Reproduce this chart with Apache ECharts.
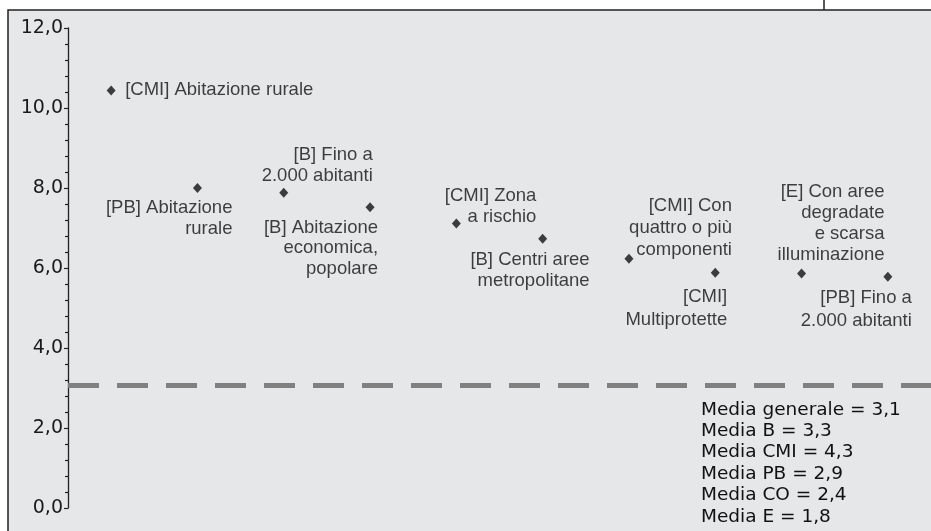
<!DOCTYPE html>
<html>
<head>
<meta charset="utf-8">
<script src="https://cdn.jsdelivr.net/npm/echarts@6/dist/echarts.min.js"></script>
<style>
  html, body { margin: 0; padding: 0; background: #ffffff; }
  #chart { width: 931px; height: 531px; }
</style>
</head>
<body>
<div id="chart"></div>
<script>
// categorie (testi delle etichette) e valori
var categories = [
  '[CMI] Abitazione rurale',
  '[PB] Abitazione\nrurale',
  '[B] Fino a\n2.000 abitanti',
  '[B] Abitazione\neconomica,\npopolare',
  '[CMI] Zona\na rischio',
  '[B] Centri aree\nmetropolitane',
  '[CMI] Con\nquattro o più\ncomponenti',
  '[CMI]\nMultiprotette',
  '[E] Con aree\ndegradate\ne scarsa\nilluminazione',
  '[PB] Fino a\n2.000 abitanti'
]
var values = [10.44, 8.0, 7.88, 7.52, 7.11, 6.73, 6.23, 5.88, 5.86, 5.78]
var yTicks = [0, 2, 4, 6, 8, 10, 12]
var mediaGenerale = 3.06
var mediaLines = [
  'Media generale = 3,1',
  'Media B = 3,3',
  'Media CMI = 4,3',
  'Media PB = 2,9',
  'Media CO = 2,4',
  'Media E = 1,8'
]

// posizione delle etichette rispetto al punto: [dx, dy, align, lineHeight]
var labelLayout = [
  [14, 0, 'left', 21],
  [35, 10, 'right', 20.5],
  [89, -48, 'right', 20.5],
  [8, 10, 'right', 20.5],
  [80, -38, 'right', 21],
  [47, 11, 'right', 21],
  [103, -64, 'right', 22],
  [12, 12, 'right', 23.5],
  [83, -92, 'right', 21],
  [24, 9, 'right', 23.5]
]

var fmt = function (v) { return v.toFixed(1).replace('.', ',') }

var points = values.map(function (v, i) {
  var l = labelLayout[i]
  return {
    value: [i, v],
    label: {
      show: true,
      formatter: categories[i],
      position: 'inside',
      align: l[2],
      verticalAlign: i === 0 ? 'middle' : 'top',
      offset: [l[0], l[1]],
      lineHeight: l[3],
      fontFamily: 'Liberation Sans',
      fontSize: 18.5,
      color: '#111111'
    }
  }
})

var myChart = echarts.init(document.getElementById('chart'))
myChart.setOption({
  animation: false,
  backgroundColor: '#ffffff',
  graphic: [
    {
      type: 'rect',
      z: -10,
      shape: { x: 8, y: 10, width: 940, height: 540 },
      style: { fill: '#e6e7e9', stroke: '#222222', lineWidth: 1.5 }
    },
    {
      type: 'line',
      z: -9,
      shape: { x1: 824, y1: 0, x2: 824, y2: 10 },
      style: { stroke: '#222222', lineWidth: 1.5 }
    },
    {
      type: 'text',
      left: 701,
      top: 399,
      style: {
        text: mediaLines.join('\n'),
        fontFamily: 'DejaVu Sans',
        fontSize: 18.5,
        lineHeight: 21.4,
        fill: '#111111'
      }
    }
  ],
  grid: { left: 68, top: 28, width: 868, height: 480 },
  xAxis: {
    type: 'category',
    data: categories,
    show: false
  },
  yAxis: {
    type: 'value',
    min: yTicks[0],
    max: yTicks[yTicks.length - 1],
    interval: 2,
    axisLine: { show: true, lineStyle: { color: '#222222', width: 1.3 } },
    axisTick: { show: true, length: 4, lineStyle: { color: '#222222', width: 1.2 } },
    minorTick: { show: true, splitNumber: 5, length: 3, lineStyle: { color: '#222222', width: 1.2 } },
    splitLine: { show: false },
    axisLabel: {
      formatter: fmt,
      margin: 5,
      fontFamily: 'DejaVu Sans',
      fontSize: 19,
      color: '#1a1a1a'
    }
  },
  series: [
    {
      type: 'scatter',
      symbol: 'diamond',
      symbolSize: [9, 10],
      itemStyle: { color: '#111111' },
      data: points,
      markLine: {
        silent: true,
        symbol: 'none',
        label: { show: false },
        lineStyle: { type: [31, 18], width: 5, color: '#808080' },
        data: [{ yAxis: mediaGenerale }]
      }
    }
  ]
})
</script>
</body>
</html>
